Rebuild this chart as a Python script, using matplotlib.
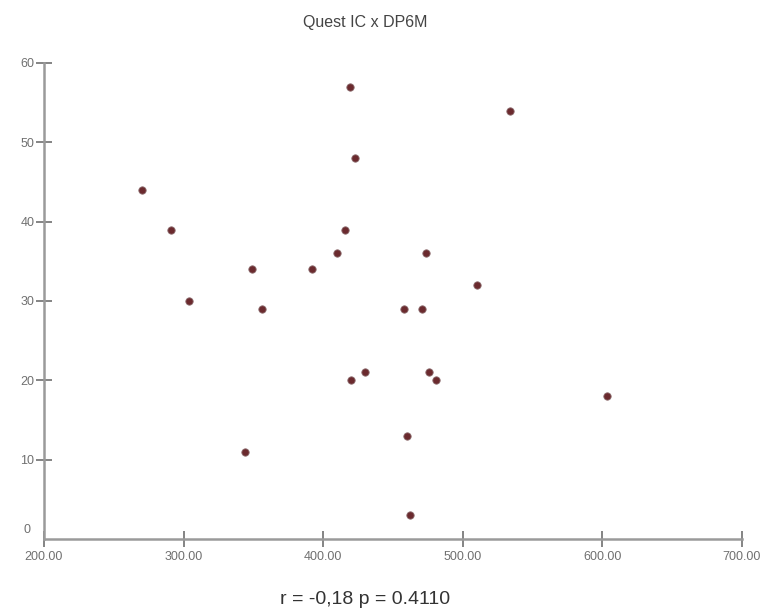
import matplotlib
matplotlib.use("Agg")
import matplotlib.pyplot as plt
import matplotlib.ticker as mticker

# Quest IC (x) vs DP6M (y)
quest_ic = [270, 291, 304, 349, 356, 344, 392, 410, 416, 419, 423, 420,
            430, 458, 460, 462, 471, 474, 476, 481, 510, 534, 603]
dp6m = [44, 39, 30, 34, 29, 11, 34, 36, 39, 57, 48, 20,
        21, 29, 13, 3, 29, 36, 21, 20, 32, 54, 18]
x_ticks = [200, 300, 400, 500, 600, 700]
y_ticks = [10, 20, 30, 40, 50, 60]

title = "Quest IC x DP6M"
stats_text = "r = -0,18 p = 0.4110"

plt.rcParams["font.family"] = ["Liberation Sans", "DejaVu Sans"]

axis_gray = "#9a9a9a"
label_gray = "#707070"

fig = plt.figure(figsize=(7.69, 6.15), dpi=100)
ax = fig.add_axes([0.0572, 0.1236, 0.9076, 0.774])

ax.scatter(quest_ic, dp6m, s=28, color="#6b2a2e", edgecolors="#8a6a6c",
           linewidths=0.6, zorder=3)

ax.set_xlim(200, 700)
ax.set_ylim(0, 60)
ax.set_xticks(x_ticks)
ax.set_yticks(y_ticks)
ax.xaxis.set_major_formatter(mticker.FuncFormatter(lambda v, p: f"{v:.2f}"))
ax.yaxis.set_major_formatter(mticker.FuncFormatter(lambda v, p: f"{v:.0f}"))

for side in ("top", "right"):
    ax.spines[side].set_visible(False)
for side in ("left", "bottom"):
    ax.spines[side].set_color(axis_gray)
    ax.spines[side].set_linewidth(1.8)

ax.tick_params(axis="x", direction="inout", length=12, width=1.2, color="#707070",
               labelsize=9, labelcolor=label_gray, pad=3)
ax.tick_params(axis="y", direction="inout", length=12, width=1.2, color="#707070",
               labelsize=9, labelcolor=label_gray, pad=1)

# y "0" sits a little apart, just left of the origin
fig.text(27 / 769, 1 - 536 / 615, "0", fontsize=9, color=label_gray,
         ha="center", va="bottom")

fig.text(365 / 769, 1 - 22 / 615, title, fontsize=11.5, color="#444444",
         ha="center", va="center")
fig.text(365 / 769, 1 - 600 / 615, stats_text, fontsize=14, color="#333333",
         ha="center", va="center")

fig.savefig("out.png", dpi=100)
